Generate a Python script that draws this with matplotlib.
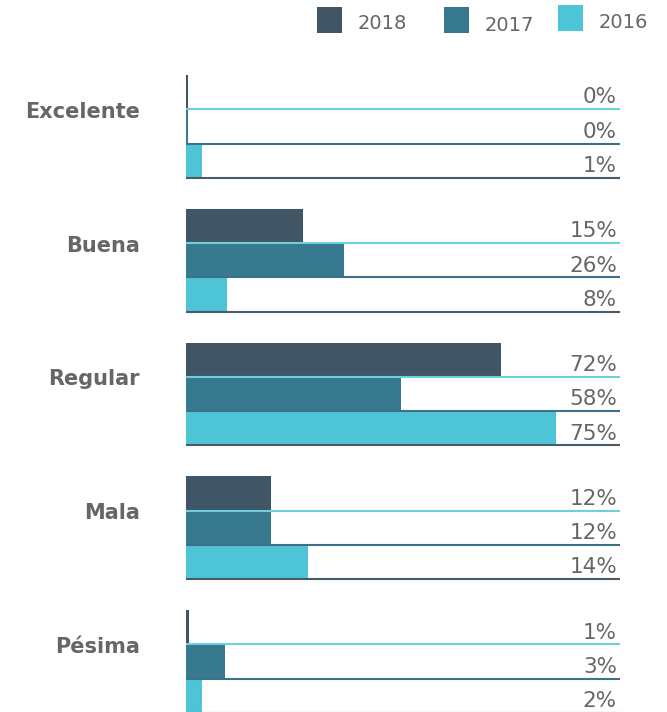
import matplotlib.pyplot as plt
from matplotlib.patches import Rectangle

# data
categories = ["Excelente", "Buena", "Regular", "Mala", "Pésima"]
years = ["2018", "2017", "2016"]
# printed percentages
pct_2018 = [0, 15, 72, 12, 1]
pct_2017 = [0, 26, 58, 12, 3]
pct_2016 = [1, 8, 75, 14, 2]
# drawn bar lengths (the source bars are not proportional to the labels)
len_2018 = [0.35, 26.9, 72.6, 19.6, 0.8]
len_2017 = [0.35, 36.4, 49.5, 19.6, 8.9]
len_2016 = [3.6, 9.4, 85.3, 28.2, 3.6]

bar_colors = ["#405666", "#37798f", "#4ec5d6"]
line_colors = ["#6dd0dd", "#3b7289", "#4a5a66"]
text_color = "#666666"

W, H = 667, 712
row_px = 34.3
top_px = 75
group_step = 3.9

fig = plt.figure(figsize=(W / 100, H / 100), dpi=100)
ax = fig.add_axes([186 / W, 0, 434 / W, 1])
ax.set_xlim(0, 100)
ax.set_ylim((H - top_px) / row_px, -top_px / row_px)
ax.axis("off")

lengths = [len_2018, len_2017, len_2016]
pcts = [pct_2018, pct_2017, pct_2016]

for g, cat in enumerate(categories):
    y0 = g * group_step
    for r in range(3):
        y = y0 + r
        ax.barh(y, lengths[r][g], height=1, align="edge",
                color=bar_colors[r], linewidth=0, zorder=1)
        ax.hlines(y + 1, 0, 100, color=line_colors[r], lw=1.5, zorder=2)
        ax.text(99.3, y + 1 - 0.17, f"{pcts[r][g]}%", ha="right",
                va="baseline", fontsize=15.5, color=text_color, clip_on=False)
    ax.text(-10.6, y0 + 1 + 0.25, cat, ha="right", va="baseline",
            fontsize=15, fontweight="bold", color=text_color, clip_on=False)

# legend drawn by hand to match the spacing of the original
leg_sq = [(317, 7), (444, 7), (558, 5)]
leg_txt = [(358, 29.3), (485, 30.7), (599, 28.3)]
for i, yr in enumerate(years):
    sx, sy = leg_sq[i]
    fig.add_artist(Rectangle((sx / W, 1 - (sy + 26) / H), 25 / W, 26 / H,
                             transform=fig.transFigure, color=bar_colors[i],
                             linewidth=0))
    tx, ty = leg_txt[i]
    fig.text(tx / W, 1 - ty / H, yr, ha="left", va="baseline",
             fontsize=14, color=text_color)

fig.savefig("out.png", dpi=100)
